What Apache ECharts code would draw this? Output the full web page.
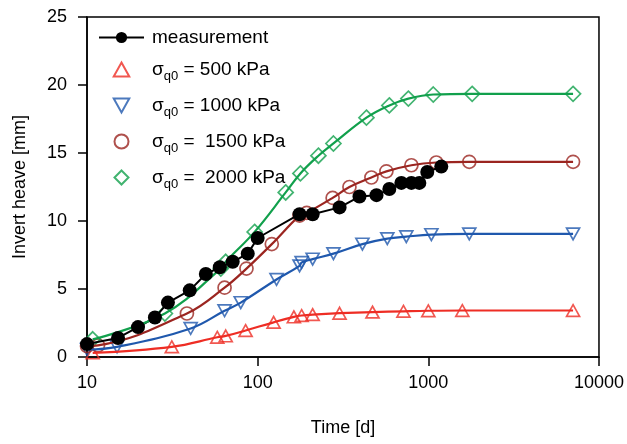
<!DOCTYPE html>
<html>
<head>
<meta charset="utf-8">
<script src="https://cdn.jsdelivr.net/npm/echarts@6/dist/echarts.min.js"></script>
<style>
html, body { margin: 0; padding: 0; background: #fff; }
#chart { width: 627px; height: 444px; }
</style>
</head>
<body>
<div id="chart"></div>
<script>
// measured invert heave
var measTime  = [10, 15.2, 19.9, 25, 29.8, 40, 49.7, 60, 71.4, 87.5, 100, 176, 210, 302, 395, 497, 591, 695, 796, 886, 986, 1191];
var measHeave = [0.95, 1.4, 2.2, 2.9, 4.0, 4.9, 6.1, 6.6, 7.0, 7.6, 8.75, 10.5, 10.5, 11.0, 11.8, 11.9, 12.35, 12.8, 12.8, 12.8, 13.6, 14.0];

// model results, one pair of arrays per initial swelling stress
var time500  = [10.8, 31.4, 58, 65, 85, 124, 163, 181, 210, 302, 471, 715, 1000, 1582, 7050];
var heave500 = [0.3, 0.75, 1.45, 1.55, 1.95, 2.55, 2.95, 3.05, 3.12, 3.22, 3.3, 3.36, 3.4, 3.42, 3.42];

var time1000  = [10, 15, 40.5, 64, 79.6, 129, 176, 181, 210, 278, 411, 575, 743, 1042, 1738, 7050];
var heave1000 = [0.55, 0.75, 2.1, 3.4, 4.0, 5.7, 6.7, 6.95, 7.2, 7.6, 8.3, 8.7, 8.85, 9.0, 9.05, 9.05];

var time1500  = [10, 11.6, 38.5, 64, 86, 121, 176, 194, 275, 345, 464, 568, 796, 1114, 1738, 7050];
var heave1500 = [0.8, 0.85, 3.2, 5.1, 6.5, 8.3, 10.4, 10.6, 11.7, 12.5, 13.2, 13.65, 14.1, 14.3, 14.35, 14.35];

var time2000  = [10.8, 28.6, 60.8, 65, 96, 146, 178, 227, 278, 434, 591, 764, 1069, 1807, 7050];
var heave2000 = [1.3, 3.2, 6.5, 7.0, 9.2, 12.1, 13.5, 14.8, 15.7, 17.6, 18.5, 19.0, 19.3, 19.35, 19.35];

var xTicks = [10, 100, 1000, 10000];
var yTicks = [0, 5, 10, 15, 20, 25];

var names = ['measurement', 'σq0 = 500 kPa', 'σq0 = 1000 kPa', 'σq0 =  1500 kPa', 'σq0 =  2000 kPa'];

function pairs(xs, ys) {
    return xs.map(function (x, i) { return [x, ys[i]]; });
}

var font = 'Liberation Sans, Arial, sans-serif';
var upTri = 'path://M5,0 L10,9 L0,9 Z';
var downTri = 'path://M0,0 L10,0 L5,9 Z';
var diamond = 'path://M5,0 L10,5 L5,10 L0,5 Z';

var models = [
    { name: names[1], t: time500,  h: heave500,  color: '#ee2d24', symbol: upTri,    size: 13 },
    { name: names[2], t: time1000, h: heave1000, color: '#1f58ad', symbol: downTri,  size: 13 },
    { name: names[3], t: time1500, h: heave1500, color: '#9b2520', symbol: 'circle', size: 13 },
    { name: names[4], t: time2000, h: heave2000, color: '#11a04c', symbol: diamond,  size: 15 }
];

var series = [
    {
        name: names[0],
        type: 'line',
        data: pairs(measTime, measHeave),
        symbol: 'circle',
        symbolSize: 14,
        showAllSymbol: true,
        itemStyle: { color: '#000' },
        lineStyle: { color: '#000', width: 2 }
    }
];
models.forEach(function (m) {
    series.push({
        type: 'line',
        data: pairs(m.t, m.h),
        smooth: 0.4,
        showSymbol: false,
        silent: true,
        lineStyle: { color: m.color, width: 2.2 }
    });
});
models.forEach(function (m) {
    series.push({
        name: m.name,
        type: 'scatter',
        data: pairs(m.t, m.h),
        symbol: m.symbol,
        symbolSize: m.size,
        symbolKeepAspect: true,
        itemStyle: { color: 'rgba(255,255,255,0)', borderColor: m.color, borderWidth: 1.7 }
    });
});

var chart = echarts.init(document.getElementById('chart'));
var option = {
    animation: false,
    textStyle: { fontFamily: font },
    grid: {
        show: true,
        left: 87, right: 28, top: 17, bottom: 87,
        borderColor: '#000',
        borderWidth: 1.5
    },
    legend: {
        data: names,
        orient: 'vertical',
        left: 98,
        top: 28,
        padding: 0,
        itemWidth: 45,
        itemHeight: 14,
        itemGap: 9,
        symbolKeepAspect: true,
        formatter: function (name) {
            if (name === 'measurement') return '{m|measurement}';
            return '{s|σ}{q|q0}{t| =' + name.split('=')[1] + '}';
        },
        textStyle: {
            color: '#000',
            fontFamily: font,
            rich: {
                m: { fontSize: 19, lineHeight: 23, padding: [0, 0, 0, 3], fontFamily: font, color: '#000' },
                s: { fontSize: 19, lineHeight: 23, padding: [0, 0, 0, 3], fontFamily: font, color: '#000' },
                q: { fontSize: 13, lineHeight: 9, padding: [14, 0, 0, 0], fontFamily: font, color: '#000' },
                t: { fontSize: 19, lineHeight: 23, fontFamily: font, color: '#000' }
            }
        }
    },
    xAxis: {
        type: 'log',
        logBase: 10,
        min: xTicks[0],
        max: xTicks[xTicks.length - 1],
        name: 'Time [d]',
        nameLocation: 'middle',
        nameGap: 62,
        nameTextStyle: { color: '#000', fontSize: 18, fontFamily: font },
        axisLine: { lineStyle: { color: '#000', width: 1.5 } },
        axisTick: { inside: false, length: 9, lineStyle: { color: '#000', width: 1.5 } },
        axisLabel: {
            color: '#000', fontSize: 18, margin: 17, fontFamily: font,
            formatter: function (v) { return String(Math.round(v)); }
        },
        splitLine: { show: false },
        minorTick: { show: false }
    },
    yAxis: {
        type: 'value',
        min: yTicks[0],
        max: yTicks[yTicks.length - 1],
        interval: yTicks[1] - yTicks[0],
        name: 'Invert heave [mm]',
        nameLocation: 'middle',
        nameGap: 58,
        nameTextStyle: { color: '#000', fontSize: 18, fontFamily: font },
        axisLine: { show: true, lineStyle: { color: '#000', width: 1.5 } },
        axisTick: { show: true, inside: false, length: 9, lineStyle: { color: '#000', width: 1.5 } },
        axisLabel: { color: '#000', fontSize: 18, margin: 20, fontFamily: font },
        splitLine: { show: false }
    },
    series: series
};
chart.setOption(option);
</script>
</body>
</html>
